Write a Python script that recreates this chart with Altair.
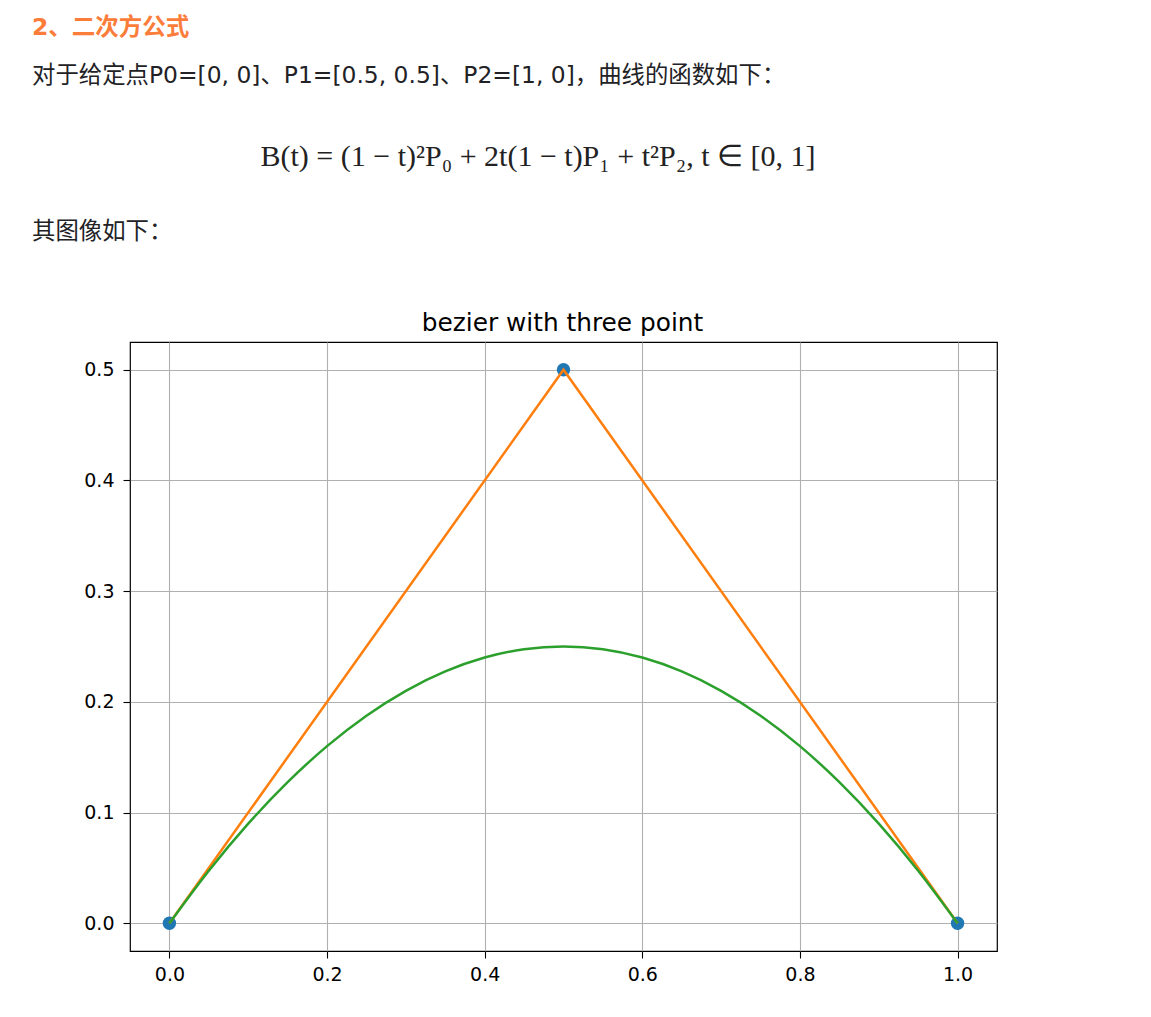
import altair as alt
import pandas as pd

# ---- data ----
ctrl_x = [0.0, 0.5, 1.0]
ctrl_y = [0.0, 0.5, 0.0]

curve_x = [0.0, 0.05, 0.1, 0.15, 0.2, 0.25, 0.3, 0.35, 0.4, 0.45, 0.5,
           0.55, 0.6, 0.65, 0.7, 0.75, 0.8, 0.85, 0.9, 0.95, 1.0]
curve_y = [0.0, 0.0475, 0.09, 0.1275, 0.16, 0.1875, 0.21, 0.2275, 0.24, 0.2475, 0.25,
           0.2475, 0.24, 0.2275, 0.21, 0.1875, 0.16, 0.1275, 0.09, 0.0475, 0.0]

x_ticks = [0.0, 0.2, 0.4, 0.6, 0.8, 1.0]
y_ticks = [0.0, 0.1, 0.2, 0.3, 0.4, 0.5]

heading = "2、二次方公式"
paragraph = "对于给定点P0=[0, 0]、P1=[0.5, 0.5]、P2=[1, 0]，曲线的函数如下："
formula = "B(t) = (1 − t)²P₀ + 2t(1 − t)P₁ + t²P₂, t ∈ [0, 1]"
caption = "其图像如下："
chart_title = "bezier with three point"

ctrl = pd.DataFrame({"x": ctrl_x, "y": ctrl_y})
curve = pd.DataFrame({"x": curve_x, "y": curve_y})

xs = alt.Scale(domain=[-0.05, 1.05], nice=False, zero=False)
ys = alt.Scale(domain=[-0.025, 0.525], nice=False, zero=False)

xenc = alt.X("x:Q", scale=xs, title=None,
             axis=alt.Axis(values=x_ticks, format=".1f"))
yenc = alt.Y("y:Q", scale=ys, title=None,
             axis=alt.Axis(values=y_ticks, format=".1f"))

pts = alt.Chart(ctrl).mark_circle(size=180, color="#1f77b4", opacity=1).encode(x=xenc, y=yenc)
poly = alt.Chart(ctrl).mark_line(color="#ff7f0e", strokeWidth=2.5).encode(x=xenc, y=yenc)
bez = alt.Chart(curve).mark_line(color="#2ca02c", strokeWidth=2.5,
                                 interpolate="monotone").encode(x=xenc, y=yenc)

CJK = "DejaVu Sans, Microsoft YaHei, Noto Sans CJK SC"

LEFT, TOP, W, H = 130, 342, 867, 609

def txt(s, px, py, **kw):
    return alt.Chart(pd.DataFrame({"t": [s]})).mark_text(**kw).encode(
        text="t:N", x=alt.value(px - LEFT), y=alt.value(py - TOP))

h1 = txt(heading, 32, 28, font=CJK, fontSize=23.5, fontWeight="bold",
         color="#fc7d3a", align="left", baseline="middle")
p1 = txt(paragraph, 32, 76, font=CJK, fontSize=23.4, color="#222226",
         align="left", baseline="middle")
f1 = txt(formula, 538, 157, font="Liberation Serif", fontSize=30,
         color="#222222", align="center", baseline="middle")
c1 = txt(caption, 32, 232, font=CJK, fontSize=23.4, color="#222226",
         align="left", baseline="middle")
t1 = txt(chart_title, LEFT + W / 2 - 1, 331, font="DejaVu Sans", fontSize=24.8,
         color="#000000", align="center", baseline="alphabetic")

chart = alt.layer(pts, poly, bez, h1, p1, f1, c1, t1).properties(
    width=W, height=H,
    autosize=alt.AutoSizeParams(type="none"),
    padding={"left": LEFT, "top": TOP, "right": 1151 - LEFT - W, "bottom": 1017 - TOP - H},
    background="white",
).configure_view(
    stroke="#000000", strokeWidth=1.2
).configure_axis(
    grid=True, gridColor="#b0b0b0", gridWidth=1.1,
    domain=False, ticks=True, tickColor="#000000", tickSize=7, tickWidth=1.1,
    labelFont="DejaVu Sans", labelFontSize=19, labelColor="#000000",
    labelPadding=7,
).configure_axisY(labelPadding=9)

chart.save("out.html", embed_options={"renderer": "svg", "actions": False})
